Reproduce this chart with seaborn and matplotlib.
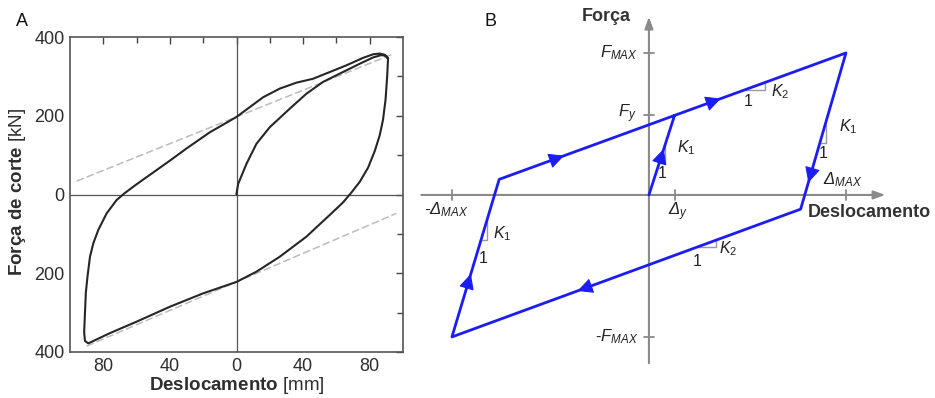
import numpy as np
import pandas as pd
import matplotlib
matplotlib.use("Agg")
import matplotlib.pyplot as plt
from matplotlib.ticker import FixedLocator, FuncFormatter
import seaborn as sns

sns.set_theme(style="white")
plt.rcParams["font.family"] = ["Liberation Sans", "DejaVu Sans"]
plt.rcParams["mathtext.fontset"] = "custom"
plt.rcParams["mathtext.rm"] = "Liberation Sans"
plt.rcParams["mathtext.it"] = "Liberation Sans:italic"
plt.rcParams["mathtext.bf"] = "Liberation Sans:bold"

# ---------------- Panel A: measured hysteresis loop ----------------
loop_disp = [0, 0, 1, 6, 12, 20, 32, 42, 52, 62, 74, 82, 87, 90, 91,
             90.5, 89.5, 88, 86, 83, 79, 74, 69, 64, 56, 42, 26, 12, 0,
             -20, -40, -60, -76, -86, -89, -91, -91.5, -91, -90.5, -89.5,
             -88, -86, -83, -78, -72, -67, -60, -50, -40, -30, -16, 0,
             8, 16, 26, 36, 46, 56, 66, 76, 82, 86, 89, 91]
loop_force = [0, 2, 27, 78, 129, 171, 218, 256, 286, 307, 332, 348, 354, 352, 345,
              300, 240, 190, 150, 110, 68, 32, 5, -20, -52, -107, -158, -196, -222,
              -251, -285, -323, -352, -372, -378, -372, -350, -300, -250, -209,
              -158, -124, -90, -48, -14, 4, 26, 56, 86, 117, 158, 197,
              222, 247, 269, 284, 294, 311, 328, 347, 356, 358, 355, 345]

upper_ref_disp = [-96, 93]
upper_ref_force = [34, 355]
lower_ref_disp = [-90, 96]
lower_ref_force = [-385, -48]

x_ticks = [-80, -40, 0, 40, 80]
y_ticks = [-400, -200, 0, 200, 400]

# ---------------- Panel B: bilinear model ----------------
model_disp = [0, 13, 100, 77, -100, -76, 13]
model_force = [0, 56, 100, -10, -100, 11, 56]
delta_y, f_y = 13, 56
delta_max, f_max = 100, 100

blue = "#1c1cf5"
grey = "#8a8a8a"
ink = "#2e2e2e"

fig = plt.figure(figsize=(9.35, 3.98), dpi=100)

# ---- panel A ----
axA = fig.add_axes([70 / 935, 1 - 352 / 398, 333 / 935, 315 / 398])
axA.axvline(0, color="#555555", lw=0.9, zorder=1)
axA.axhline(0, color="#555555", lw=0.9, zorder=1)
sns.lineplot(x=upper_ref_disp, y=upper_ref_force, ax=axA, color="#bcbcbc",
             lw=1.1, linestyle=(0, (5, 2)), estimator=None, sort=False, zorder=2)
sns.lineplot(x=lower_ref_disp, y=lower_ref_force, ax=axA, color="#bcbcbc",
             lw=1.1, linestyle=(0, (5, 2)), estimator=None, sort=False, zorder=2)
sns.lineplot(x=loop_disp, y=loop_force, ax=axA, color="#262626", lw=1.5,
             estimator=None, sort=False, zorder=3)
axA.set_xlim(-100, 100)
axA.set_ylim(-400, 400)
axA.xaxis.set_major_locator(FixedLocator(x_ticks))
axA.xaxis.set_minor_locator(FixedLocator([-60, -20, 20, 60]))
axA.yaxis.set_major_locator(FixedLocator(y_ticks))
axA.yaxis.set_minor_locator(FixedLocator([-300, -100, 100, 300]))
absfmt = FuncFormatter(lambda v, p: f"{abs(int(v))}")
axA.xaxis.set_major_formatter(absfmt)
axA.yaxis.set_major_formatter(absfmt)
axA.tick_params(which="both", direction="in", top=True, right=True,
                color="#444444", width=1.0)
axA.tick_params(which="major", length=5, labelsize=13, labelcolor=ink, pad=4)
axA.tick_params(which="minor", length=4)
axA.set_xlabel("")
axA.set_ylabel("")
for s in axA.spines.values():
    s.set_color("#555555")
    s.set_linewidth(1.2)
axA.text(0.5, -0.105, r"$\mathbf{Deslocamento}$ [mm]", transform=axA.transAxes,
         ha="center", va="center", fontsize=13.5, color=ink)
axA.text(-0.157, 0.51, r"$\mathbf{Força\ de\ corte}$ [kN]", transform=axA.transAxes,
         ha="center", va="center", rotation=90, fontsize=13.5, color=ink)
fig.text(22 / 935, 1 - 22 / 398, "A", ha="center", va="center", fontsize=13, color="#111111")

# ---- panel B ----
axB = fig.add_axes([420 / 935, 0, 515 / 935, 1])
axB.set_xlim(-116.2, 145.2)
axB.set_ylim(-143.0, 137.3)
axB.axis("off")

arrow_axis = dict(arrowstyle="-|>,head_length=0.5,head_width=0.18", color=grey,
                  lw=1.5, shrinkA=0, shrinkB=0, mutation_scale=14)
axB.annotate("", xy=(120, 0), xytext=(-115.5, 0), arrowprops=arrow_axis, zorder=1)
axB.annotate("", xy=(0, 125.5), xytext=(0, -118.5), arrowprops=arrow_axis, zorder=1)
for xv in (-delta_max, delta_y, delta_max):
    axB.plot([xv, xv], [-3.5, 3.5], color=grey, lw=1.3, zorder=1)
for yv in (-f_max, f_y, f_max):
    axB.plot([-2.6, 2.6], [yv, yv], color=grey, lw=1.3, zorder=1)

sns.lineplot(x=model_disp, y=model_force, ax=axB, color=blue, lw=2.0,
             estimator=None, sort=False, zorder=3)

# direction arrows along the path
def path_arrow(p, q, frac):
    p = np.asarray(p, float)
    q = np.asarray(q, float)
    tip = p + (q - p) * frac
    back = tip - (q - p) * 0.02
    axB.annotate("", xy=tip, xytext=back,
                 arrowprops=dict(arrowstyle="-|>,head_length=0.6,head_width=0.3",
                                 fc=blue, ec=blue, lw=0.8, shrinkA=0, shrinkB=0,
                                 mutation_scale=16), zorder=4)

pts = list(zip(model_disp, model_force))
path_arrow(pts[0], pts[1], 0.58)
path_arrow(pts[1], pts[2], 0.27)
path_arrow(pts[2], pts[3], 0.83)
path_arrow(pts[3], pts[4], 0.64)
path_arrow(pts[4], pts[5], 0.40)
path_arrow(pts[5], pts[6], 0.37)

# slope triangles
tri_kw = dict(color="#9a9a9a", lw=1.0, zorder=2)
k1 = (model_force[1] - model_force[0]) / (model_disp[1] - model_disp[0])
k2 = (model_force[2] - model_force[1]) / (model_disp[2] - model_disp[1])

def slope_tri(x0, y0, w, k):
    axB.plot([x0, x0 + w, x0 + w], [y0, y0, y0 + k * w], **tri_kw)

slope_tri(5.0, 22.5, 3.2, k1)
slope_tri(86.7, 36.6, 3.0, k1)
slope_tri(-85.2, -31.7, 3.2, k1)
slope_tri(49, f_y + k2 * (49 - delta_y), 10, k2)
slope_tri(24, -10 + k2 * (24 - 77), 10, k2)

lab = dict(fontsize=11.5, color="#222222", ha="center", va="center")
axB.text(6.8, 15.0, "1", **lab)
axB.text(19.0, 33.0, "$K_1$", **lab)
axB.text(88.5, 29.0, "1", **lab)
axB.text(101.0, 48.0, "$K_1$", **lab)
axB.text(-84.3, -44.5, "1", **lab)
axB.text(-74.5, -27.0, "$K_1$", **lab)
axB.text(50.5, 65.5, "1", **lab)
axB.text(66.5, 72.5, "$K_2$", **lab)
axB.text(24.5, -47.0, "1", **lab)
axB.text(40.0, -37.5, "$K_2$", **lab)

ax_lab = dict(fontsize=12, color="#222222")
axB.text(-5.5, f_max, "$F_{MAX}$", ha="right", va="center", **ax_lab)
axB.text(-6.5, f_y + 1, "$F_y$", ha="right", va="center", **ax_lab)
axB.text(-5.5, -f_max, "-$F_{MAX}$", ha="right", va="center", **ax_lab)
axB.text(-103, -10, "-Δ$_{MAX}$", ha="center", va="center", fontstyle="italic", **ax_lab)
axB.text(14.7, -12, "Δ$_y$", ha="center", va="center", fontstyle="italic", **ax_lab)
axB.text(98.5, 10.5, "Δ$_{MAX}$", ha="center", va="center", fontstyle="italic", **ax_lab)
axB.text(-21.8, 125.5, "Força", ha="center", va="center", fontsize=13,
         fontweight="bold", color="#333333")
axB.text(112, -12.5, "Deslocamento", ha="center", va="center", fontsize=13,
         fontweight="bold", color="#333333")
fig.text(490 / 935, 1 - 22 / 398, "B", ha="center", va="center", fontsize=13, color="#111111")

fig.savefig("out.png", dpi=100)
